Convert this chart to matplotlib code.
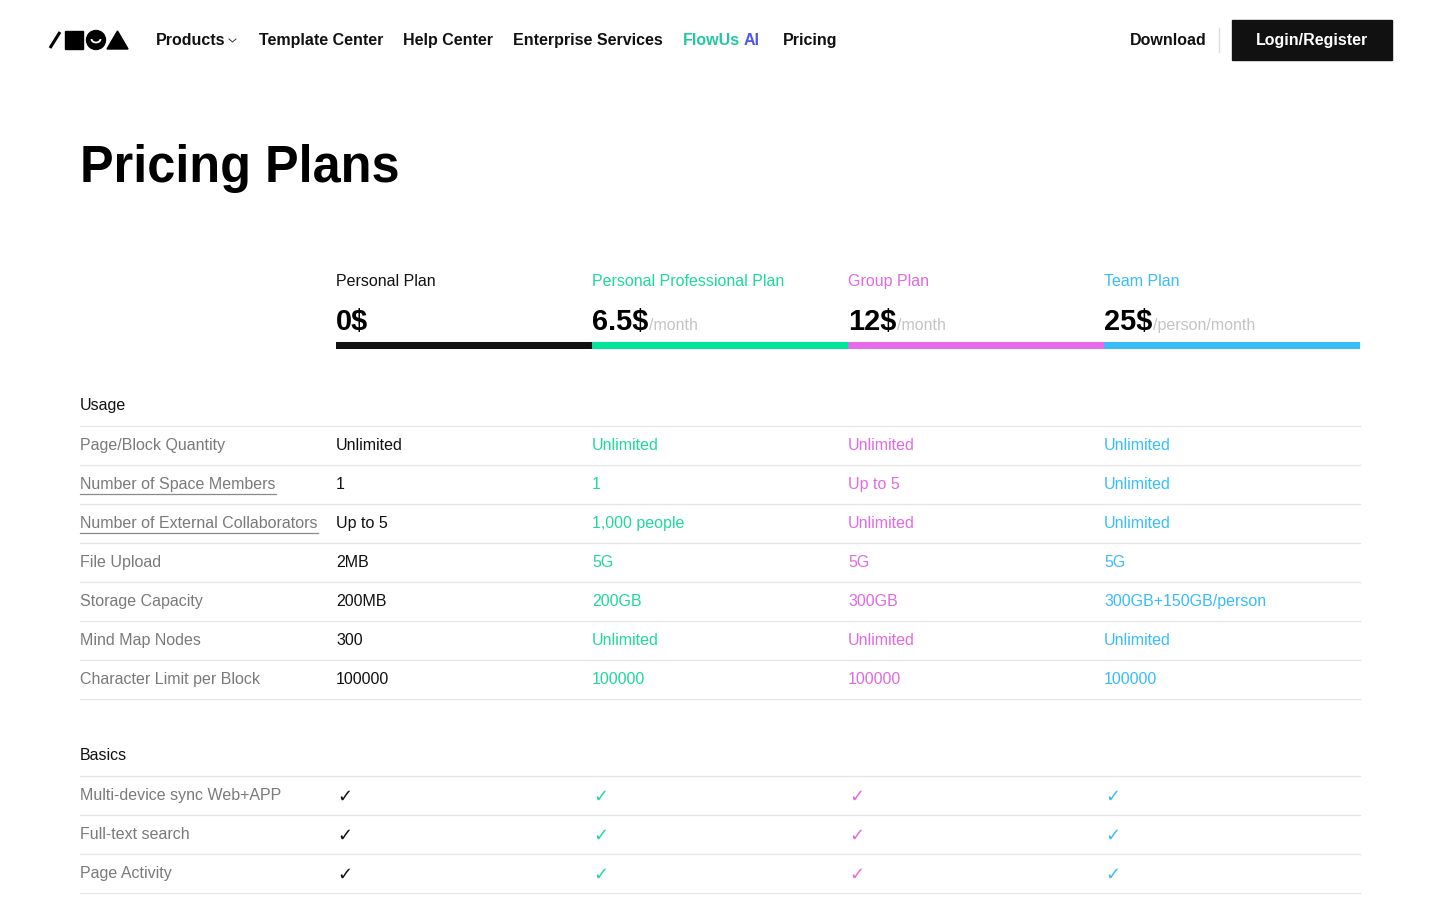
import matplotlib
matplotlib.use("Agg")
import matplotlib.pyplot as plt
from matplotlib.patches import Rectangle, Circle, Polygon, Arc

plt.rcParams["font.family"] = ["Liberation Sans", "DejaVu Sans"]

# --- data ---
nav_items = ["Products", "Template Center", "Help Center", "Enterprise Services", "FlowUs AI", "Pricing"]
nav_x = [156, 259, 403, 513, 683, 783]
plans = ["Personal Plan", "Personal Professional Plan", "Group Plan", "Team Plan"]
prices = ["0$", "6.5$", "12$", "25$"]
units = ["", "/month", "/month", "/person/month"]
plan_colors = ["#111111", "#00e59a", "#e76ae8", "#38bdf8"]
text_colors = ["#111111", "#1fd99a", "#e06ae0", "#38bdf8"]

usage_rows = ["Page/Block Quantity", "Number of Space Members", "Number of External Collaborators",
              "File Upload", "Storage Capacity", "Mind Map Nodes", "Character Limit per Block"]
usage_underlined = [False, True, True, False, False, False, False]
usage_values = [
    ["Unlimited", "Unlimited", "Unlimited", "Unlimited"],
    ["1", "1", "Up to 5", "Unlimited"],
    ["Up to 5", "1,000 people", "Unlimited", "Unlimited"],
    ["2MB", "5G", "5G", "5G"],
    ["200MB", "200GB", "300GB", "300GB+150GB/person"],
    ["300", "Unlimited", "Unlimited", "Unlimited"],
    ["100000", "100000", "100000", "100000"],
]
basics_rows = ["Multi-device sync Web+APP", "Full-text search", "Page Activity"]

W, H = 1440, 900
fig = plt.figure(figsize=(W / 100, H / 100), dpi=100)
ax = fig.add_axes([0, 0, 1, 1])
ax.set_xlim(0, W)
ax.set_ylim(H, 0)
ax.axis("off")

VA = "center_baseline"

def fs(px):
    return px * 0.72

# logo
ax.plot([50, 60], [48, 32], color="black", lw=2.2, solid_capstyle="butt")
ax.add_patch(Rectangle((65, 31), 18, 18, color="black"))
ax.add_patch(Circle((96, 40), 9.5, color="black"))
ax.add_patch(Arc((96, 39), 9, 7, theta1=0, theta2=180, color="white", lw=1.3))
ax.add_patch(Polygon([[107, 49], [117.5, 31], [128, 49]], color="black"))

# nav
for label, x in zip(nav_items, nav_x):
    if label == "FlowUs AI":
        ax.text(x, 39, "FlowUs", fontsize=fs(16), fontweight="bold", color="#22c9a0", va=VA)
        ax.text(x + 61, 39, "AI", fontsize=fs(16), fontweight="bold", color="#4f57e8", va=VA)
    else:
        ax.text(x, 39, label, fontsize=fs(16), fontweight="bold", color="#111111", va=VA)
ax.plot([229, 232.5, 236], [39, 42, 39], color="#333333", lw=0.7)
ax.text(1207, 39, "Download", fontsize=fs(16), fontweight="bold", color="#111111", va=VA, ha="right")
ax.plot([1219, 1219], [28, 52], color="#dddddd", lw=1)
ax.add_patch(Rectangle((1232, 20), 160, 40, color="#111111"))
ax.text(1312, 39, "Login/Register", fontsize=fs(16), fontweight="bold", color="white", va=VA, ha="center")

# title
ax.text(80, 163, "Pricing Plans", fontsize=fs(50.5), fontweight="bold", color="black", va=VA)

# plan headers
col_x = [336, 592, 848, 1104]
fig.canvas.draw()
renderer = fig.canvas.get_renderer()
inv = ax.transData.inverted()
for i, x in enumerate(col_x):
    ax.text(x, 280, plans[i], fontsize=fs(16), color=text_colors[i], va=VA)
    p = ax.text(x, 319, prices[i], fontsize=fs(29), fontweight="bold", color="black", va=VA)
    bb = p.get_window_extent(renderer)
    x1 = inv.transform((bb.x1, bb.y0))[0]
    if units[i]:
        ax.text(x1 + 1, 324, units[i], fontsize=fs(16), color="#c4c4c4", va=VA)
    ax.add_patch(Rectangle((x, 342), 256, 7, color=plan_colors[i], lw=0))

def section(title, y0):
    ax.text(80, y0, title, fontsize=fs(16), color="#111111", va=VA)
    return y0 + 22

# usage
y = section("Usage", 404)
for r, row in enumerate(usage_rows):
    ax.plot([80, 1360], [y, y], color="#e6e6e6", lw=1)
    cy = y + 18
    t = ax.text(80, cy, row, fontsize=fs(16), color="#7a7a7a", va=VA)
    if usage_underlined[r]:
        bb = t.get_window_extent(renderer)
        xa = inv.transform((bb.x0, bb.y0))[0]
        xb = inv.transform((bb.x1, bb.y0))[0]
        ax.plot([xa, xb], [cy + 11, cy + 11], color="#8a8a8a", lw=0.9)
    for i, x in enumerate(col_x):
        ax.text(x, cy, usage_values[r][i], fontsize=fs(16), color=text_colors[i], va=VA)
    y += 39
ax.plot([80, 1360], [y, y], color="#e6e6e6", lw=1)

# basics
y = section("Basics", 754)
for row in basics_rows:
    ax.plot([80, 1360], [y, y], color="#e6e6e6", lw=1)
    cy = y + 18
    ax.text(80, cy, row, fontsize=fs(16), color="#7a7a7a", va=VA)
    for i, x in enumerate(col_x):
        ax.text(x + 1, cy + 1, "\u2713", fontsize=fs(18), color=text_colors[i], va=VA,
                family="DejaVu Sans")
    y += 39
ax.plot([80, 1360], [y, y], color="#e6e6e6", lw=1)

fig.savefig("out.png", dpi=100)
